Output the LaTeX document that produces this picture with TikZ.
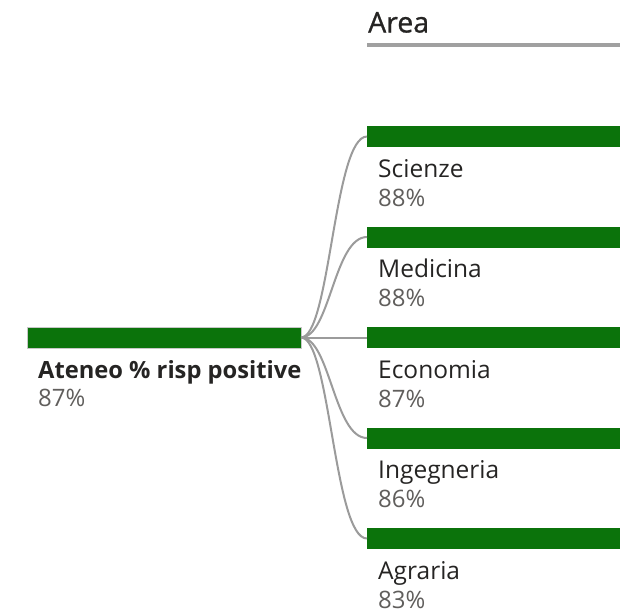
\documentclass[tikz,border=0pt]{standalone}
\usepackage{fontspec}
\setmainfont{Open Sans}
\newfontfamily\hdrfont{Open Sans}[FakeBold=0.9]
\usetikzlibrary{calc}
\definecolor{barg}{RGB}{11,115,11}
\definecolor{lbl}{RGB}{37,36,35}
\definecolor{pct}{RGB}{96,94,92}
\definecolor{lnk}{RGB}{155,155,155}
\definecolor{hdr}{RGB}{160,160,160}
\begin{document}
\begin{tikzpicture}[x=1pt,y=-1pt,
  bar/.style={fill=barg,draw=none,inner sep=0pt,outer sep=0pt,minimum height=21pt,anchor=north west},
  rootbar/.style={bar,draw=black!22,line width=1pt,minimum width=274pt},
  leafbar/.style={bar,minimum width=253pt},
  lab/.style={anchor=base west,inner sep=0pt,text=lbl,font=\fontsize{24.5}{28}\selectfont},
  val/.style={anchor=base west,inner sep=0pt,text=pct,font=\fontsize{24}{28}\selectfont},
  link/.style={draw=lnk,line width=2pt}]
\useasboundingbox (0,0) rectangle (620,611);
% header
\node[anchor=base west,inner sep=0pt,text=lbl,font=\hdrfont\fontsize{28.5}{32}\selectfont] (hdr) at (368,32.5) {Area};
\draw[hdr,line width=4.5pt] (367,45.2) coordinate (hl) -- (620,45.2) coordinate (hr);
% root
\node[rootbar] (root) at (27,327) {};
\node[lab,font=\fontsize{23.7}{28}\selectfont\bfseries] (rl) at (38,378) {Ateneo \% risp positive};
\node[val] (rv) at (38,406.5) {87\%};
% leaves
\foreach \i/\t/\name/\v in {1/126/Scienze/88,2/226.5/Medicina/88,3/327/Economia/87,4/427.5/Ingegneria/86,5/528/Agraria/83}{
  \node[leafbar] (b\i) at (367,\t) {};
  \node[lab] (l\i) at (378,\t+51) {\name};
  \node[val] (v\i) at (378,\t+80) {\v\%};
}
\foreach \i in {1,...,5}{
  \draw[link] (root.east) .. controls (330,0 |- root.east) and (334,0 |- b\i.west) .. (b\i.west);
}
\end{tikzpicture}
\end{document}
